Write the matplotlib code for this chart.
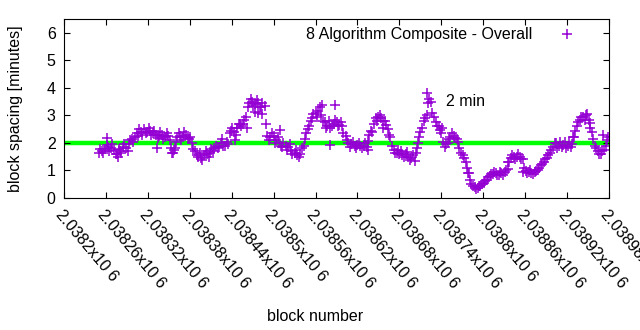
import numpy as np
import matplotlib; matplotlib.use("Agg"); import matplotlib.pyplot as plt

plt.rcParams["font.family"] = ["Liberation Sans", "DejaVu Sans"]

# block spacing (minutes) at evenly spaced blocks
spacing = [1.65, 1.72, 1.78, 1.85, 1.82, 1.75, 1.60, 1.70, 1.85, 1.80,
           1.95, 2.15, 2.20, 2.25, 2.40, 2.50, 2.40, 2.45, 2.35, 2.30,
           2.25, 2.30, 2.20, 2.25, 1.80, 1.75, 2.20, 2.25, 2.20, 2.30,
           2.15, 2.00, 1.70, 1.50, 1.45, 1.55, 1.60, 1.65, 1.70, 1.90,
           1.85, 2.15, 1.90, 1.95, 2.45, 2.40, 2.55, 2.70, 2.70, 2.95,
           3.45, 3.50, 3.40, 3.45, 3.30, 3.35, 2.25, 2.20, 2.25, 2.10,
           2.00, 1.85, 1.90, 1.85, 1.70, 1.65, 1.55, 1.60, 1.90, 2.35,
           2.60, 2.90, 3.10, 3.15, 3.00, 2.75, 2.60, 2.55, 2.70, 2.75,
           2.65, 2.60, 2.25, 2.00, 1.95, 1.90, 1.92, 1.88, 1.90, 1.85,
           2.30, 2.40, 2.90, 2.95, 2.90, 2.80, 2.50, 2.20, 1.75, 1.65,
           1.60, 1.55, 1.60, 1.50, 1.45, 1.35, 2.00, 2.40, 2.80, 3.00,
           3.60, 3.10, 2.75, 2.60, 2.35, 1.85, 2.00, 2.20, 2.25, 2.15,
           1.80, 1.55, 1.30, 0.90, 0.50, 0.40, 0.38, 0.45, 0.55, 0.65,
           0.80, 0.88, 0.90, 0.85, 0.92, 0.95, 1.05, 1.45, 1.50, 1.48,
           1.50, 1.40, 0.98, 0.95, 0.92, 0.95, 1.00, 1.20, 1.30, 1.45,
           1.65, 1.85, 2.00, 1.90, 1.85, 2.05, 1.90, 1.85, 2.20, 2.60,
           2.85, 2.95, 3.00, 2.85, 2.40, 1.90, 1.70, 1.60, 1.75, 2.10]
# the blocks in between (two blocks later), same reading
spacing_mid = [1.78, 1.62, 1.92, 1.70, 1.95, 1.58, 1.78, 1.62, 1.95, 1.72,
               2.10, 2.02, 2.35, 2.50, 2.30, 2.35, 2.55, 2.28, 2.45, 2.18,
               2.38, 2.15, 2.35, 2.10, 1.65, 2.05, 2.35, 2.12, 2.38, 2.18,
               2.22, 1.78, 1.55, 1.62, 1.38, 1.70, 1.50, 1.78, 1.82, 1.80,
               1.98, 1.90, 2.05, 2.35, 2.55, 2.30, 2.68, 2.60, 2.82, 3.30,
               3.60, 3.35, 3.55, 3.30, 3.45, 2.70, 2.10, 2.35, 2.00, 2.20,
               1.88, 2.00, 1.75, 1.95, 1.58, 1.75, 1.50, 1.80, 2.15, 2.50,
               2.80, 3.05, 2.95, 3.30, 2.80, 2.55, 2.78, 2.62, 2.85, 2.60,
               2.75, 2.35, 2.10, 1.85, 2.05, 1.80, 1.98, 1.82, 1.98, 2.08,
               2.45, 2.70, 2.80, 3.00, 2.78, 2.65, 2.30, 1.90, 1.62, 1.75,
               1.70, 1.50, 1.68, 1.38, 1.55, 1.62, 2.20, 2.55, 2.90, 3.45,
               3.50, 2.95, 2.62, 2.48, 2.05, 1.95, 2.15, 2.35, 2.18, 2.02,
               1.65, 1.45, 1.10, 0.65, 0.42, 0.32, 0.45, 0.52, 0.62, 0.75,
               0.88, 0.95, 0.82, 0.95, 0.85, 1.00, 1.30, 1.55, 1.40, 1.58,
               1.42, 1.10, 0.90, 1.02, 0.88, 0.98, 1.10, 1.25, 1.40, 1.55,
               1.75, 2.00, 1.82, 2.05, 1.92, 1.80, 2.05, 1.95, 2.45, 2.75,
               2.95, 2.85, 3.05, 2.72, 2.15, 1.80, 1.58, 1.70, 1.90, 2.20]
first_block, last_block = 2038250, 2038977
blocks = np.linspace(first_block, last_block, len(spacing)).round()

# scattered points standing off the main band
extra_blocks = [2038262, 2038277, 2038333, 2038356, 2038359, 2038445, 2038462,
                2038473, 2038478, 2038483, 2038509, 2038569, 2038581, 2038588,
                2038635, 2038657, 2038705, 2038720, 2038741, 2038778, 2038835,
                2038857, 2038928, 2038953, 2038971]
extra_vals = [2.18, 1.49, 1.80, 1.63, 1.80, 2.10, 2.54, 3.12, 3.10, 3.06,
              2.47, 3.38, 1.92, 3.38, 1.74, 2.54, 1.80, 3.81, 2.54, 0.90,
              1.31, 0.94, 2.20, 2.54, 2.29]

xticks = np.arange(2038200, 2038981, 60)
xlabels = ["2.0382", "2.03826", "2.03832", "2.03838", "2.03844", "2.0385",
           "2.03856", "2.03862", "2.03868", "2.03874", "2.0388", "2.03886",
           "2.03892", "2.03898"]

fs = 11.5
fig = plt.figure(figsize=(6.4, 3.3), dpi=100)
ax = fig.add_axes([0.1, 0.4, 0.8516, 0.5424])
purple = "#9400d3"
mk = dict(ls="none", marker="+", ms=7.5, mew=1.1, color=purple, zorder=2)
ax.axhline(2, xmin=0.005, xmax=0.997, color="#00ff00", lw=3.2, zorder=1)
ax.plot(blocks, spacing, label="8 Algorithm Composite - Overall", **mk)
ax.plot(blocks + 2, spacing_mid, **mk)
ax.plot(extra_blocks, extra_vals, **mk)
ax.text(2038747, 3.52, "2 min", ha="left", va="center", fontsize=fs)

ax.set_xlim(2038200, 2038980); ax.set_ylim(0, 6.5)
ax.set_yticks(range(7))
ax.set_xticks(xticks)
ax.set_xticklabels([s + "x10 6" for s in xlabels], rotation=-50, ha="left", va="top",
                   rotation_mode="anchor", fontsize=fs)
ax.tick_params(direction="in", top=True, right=True, length=4, labelsize=fs, pad=6)
ax.tick_params(axis="x", pad=7)
ax.set_ylabel("block spacing [minutes]", fontsize=fs)
ax.set_xlabel("block number", fontsize=fs)
ax.xaxis.set_label_coords(0.46, -0.62)
ax.yaxis.set_label_coords(-0.075, 0.5)
ax.legend(loc="upper right", bbox_to_anchor=(0.98, 1.017), frameon=False,
          markerfirst=False, fontsize=fs, handlelength=2.5, borderaxespad=0.3,
          handletextpad=0.9)
fig.savefig("out.png", dpi=100)
